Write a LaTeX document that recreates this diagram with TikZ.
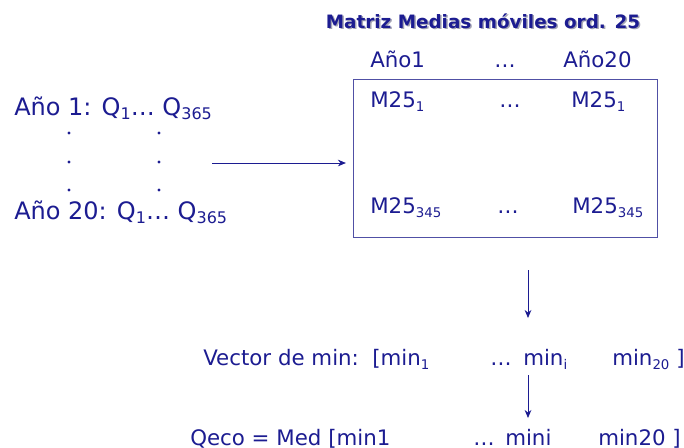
\documentclass[tikz,border=0pt]{standalone}
\usepackage{fontspec}
\setmainfont{DejaVu Sans}
\usetikzlibrary{arrows.meta}
\definecolor{navy}{RGB}{28,28,145}
\definecolor{boxblue}{RGB}{80,80,165}
\definecolor{shad}{RGB}{165,165,180}
\newcommand{\bsub}[1]{\raisebox{-0.35ex}{\fontsize{12}{12}\selectfont #1}}
\newcommand{\ssub}[1]{\raisebox{-0.35ex}{\fontsize{10}{10}\selectfont #1}}
\newcommand{\Lft}{\fontsize{18}{22}\selectfont}
\newcommand{\Mid}{\fontsize{16}{19}\selectfont}
\newcommand{\Ttl}{\fontsize{13.8}{16}\selectfont\bfseries}
\begin{document}
\begin{tikzpicture}[x=0.75pt,y=-0.75pt,
  txt/.style={text=navy,inner sep=0pt,anchor=base west},
  dotnode/.style={circle,fill=navy,inner sep=0pt,minimum size=2.4pt},
  arr/.style={draw=navy,line width=0.6pt,-{Stealth[length=6pt,width=5pt]}}]
\useasboundingbox (0,0) rectangle (684,447);
% title with shadow
\node[txt,text=shad,font=\Ttl] (tsh) at (327,29.5) {Matriz Medias móviles ord. 25};
\node[txt,font=\Ttl] (title) at (325.5,28) {Matriz Medias móviles ord. 25};
% left texts
\node[txt,font=\Lft] (a1) at (14,115) {Año 1: Q\bsub{1}… Q\bsub{365}};
\node[txt,font=\Lft] (a20) at (14,219) {Año 20: Q\bsub{1}… Q\bsub{365}};
\node[dotnode] (d11) at (69,133) {};
\node[dotnode] (d12) at (69,162) {};
\node[dotnode] (d13) at (69,190) {};
\node[dotnode] (d21) at (159,133) {};
\node[dotnode] (d22) at (159,162) {};
\node[dotnode] (d23) at (159,190) {};
% matrix box
\node[draw=boxblue,line width=0.7pt,minimum width=228pt,minimum height=119pt,inner sep=0pt] (box) at (505,158.5) {};
\node[txt,font=\Mid] (h1) at (370,67) {Año1};
\node[txt,font=\Mid] (hd) at (494,67) {…};
\node[txt,font=\Mid] (h20) at (563,67) {Año20};
\node[txt,font=\Mid] (m11) at (370,107) {M25\ssub{1}};
\node[txt,font=\Mid] (m1d) at (499,107) {…};
\node[txt,font=\Mid] (m12) at (571,107) {M25\ssub{1}};
\node[txt,font=\Mid] (m21) at (370,213) {M25\ssub{345}};
\node[txt,font=\Mid] (m2d) at (497,213) {…};
\node[txt,font=\Mid] (m22) at (572,213) {M25\ssub{345}};
% arrows
\coordinate (s1) at (212,163);
\draw[arr] (s1) -- ([xshift=-5pt]box.west |- s1);
\coordinate (s2) at (528,270);
\coordinate (e2) at (528,318);
\draw[arr] (s2) -- (e2);
\coordinate (s3) at (528,375);
\coordinate (e3) at (528,418);
\draw[arr] (s3) -- (e3);
% vector line
\node[txt,font=\Mid] (v0) at (203,365) {Vector de min:};
\node[txt,font=\Mid] (v1) at (372,365) {[min\ssub{1}};
\node[txt,font=\Mid] (vd) at (490,365) {…};
\node[txt,font=\Mid] (vi) at (523,365) {min\ssub{i}};
\node[txt,font=\Mid] (v20) at (612,365) {min\ssub{20} ]};
% Qeco line
\node[txt,font=\Mid] (q0) at (190,445) {Qeco = Med [min1};
\node[txt,font=\Mid] (qd) at (473,445) {…};
\node[txt,font=\Mid] (qi) at (505,445) {mini};
\node[txt,font=\Mid] (q20) at (598,445) {min20 ]};
\end{tikzpicture}
\end{document}
